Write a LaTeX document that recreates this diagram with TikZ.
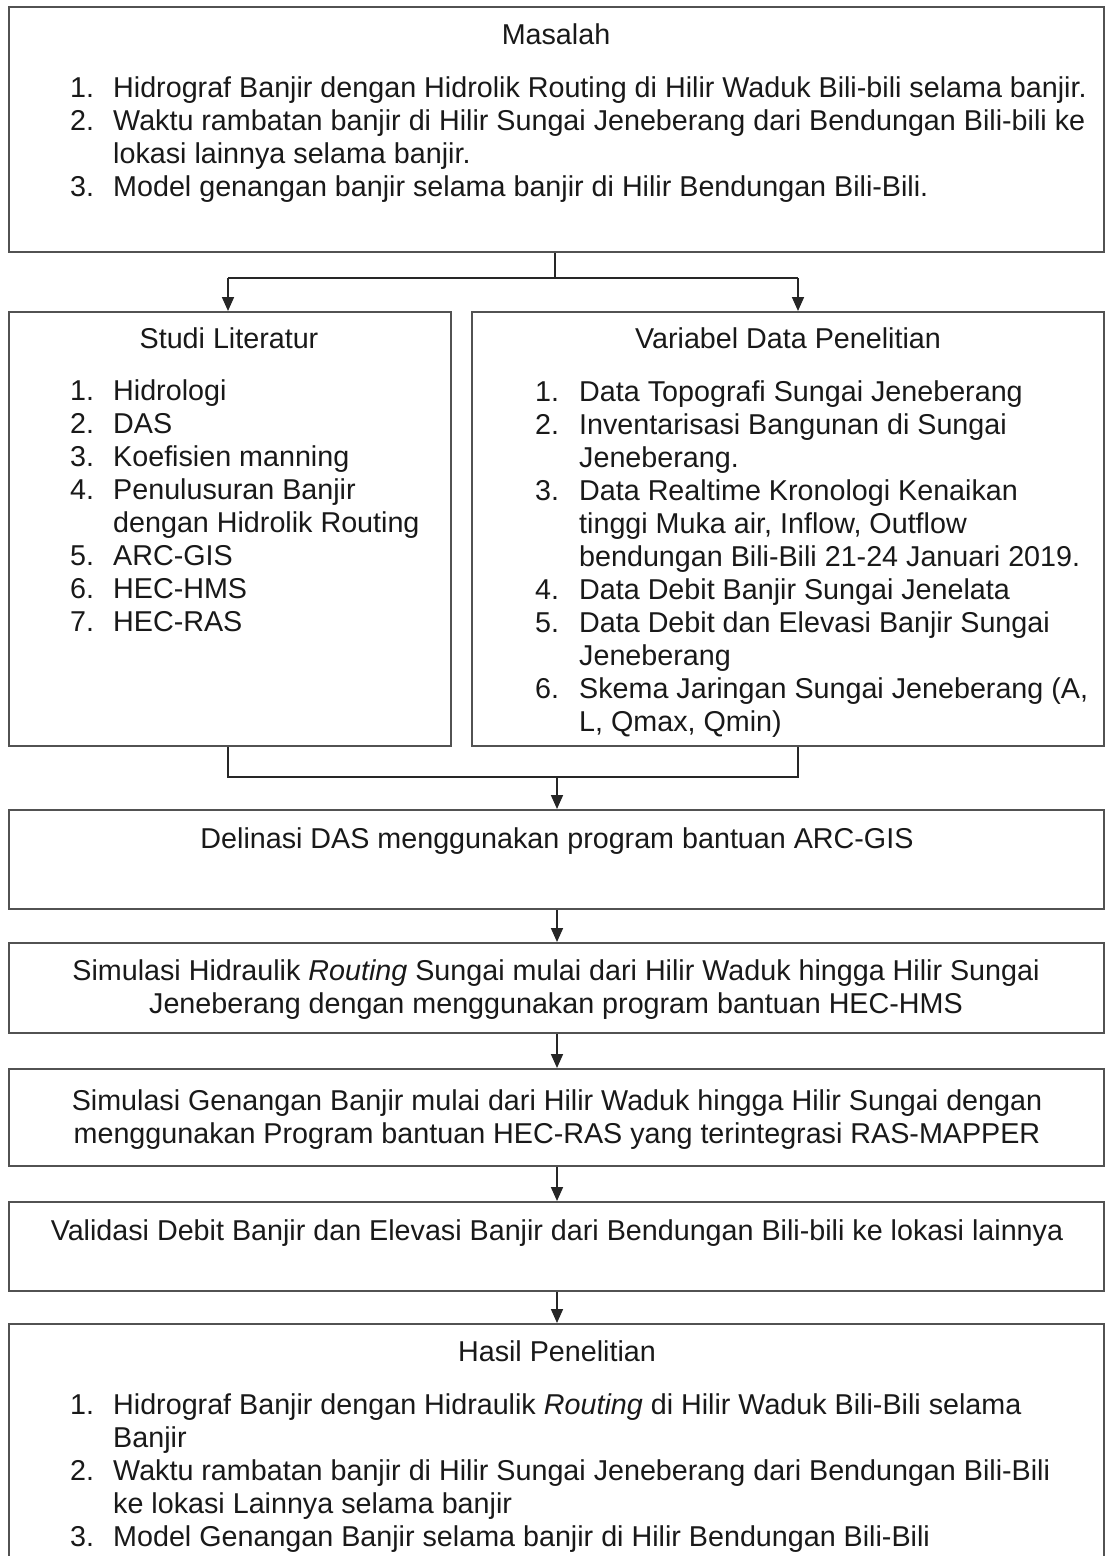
\documentclass[tikz,border=0pt]{standalone}
\usepackage{fontspec}
\setmainfont{Liberation Sans}
\usetikzlibrary{arrows.meta}
\newcommand\diagfont{\fontsize{28.7}{33}\selectfont}
\begin{document}
\begin{tikzpicture}[x=1pt,y=-1pt,
  box/.style={draw=black!68, line width=2pt, inner sep=0pt, minimum width=1095pt},
  conn/.style={draw=black!85, line width=1.7pt},
  arr/.style={conn, -{Triangle[length=14pt,width=12pt]}},
  txt/.style={inner sep=0pt, text=black!90, font=\diagfont},
]
\useasboundingbox (0,0) rectangle (1105,1556);
\clip (0,0) rectangle (1105,1556);
\fill[white] (0,0) rectangle (1105,1556);

% boxes
\node[box, minimum height=245pt] (masalah) at (556.5,129.5) {};
\node[box, minimum width=442pt, minimum height=434pt] (studi) at (230,529) {};
\node[box, minimum width=632pt, minimum height=434pt] (var) at (788,529) {};
\node[box, minimum height=99pt] (delin) at (556.5,859.5) {};
\node[box, minimum height=90pt] (simh) at (556.5,988) {};
\node[box, minimum height=97pt] (simg) at (556.5,1117.5) {};
\node[box, minimum height=89pt] (valid) at (556.5,1246.5) {};
\node[box, minimum height=300pt] (hasil) at (556.5,1474) {};

% texts
\node[txt, anchor=base] (tMas) at (556,44) {Masalah};
\node[txt, anchor=base west] (lMas) at (70,97) {\begin{tabular}[t]{@{}p{43pt}@{}l@{}}
1.&Hidrograf Banjir dengan Hidrolik Routing di Hilir Waduk Bili-bili selama banjir.\\
2.&Waktu rambatan banjir di Hilir Sungai Jeneberang dari Bendungan Bili-bili ke\\
&lokasi lainnya selama banjir.\\
3.&Model genangan banjir selama banjir di Hilir Bendungan Bili-Bili.
\end{tabular}};

\node[txt, anchor=base] (tStudi) at (229,348) {Studi Literatur};
\node[txt, anchor=base west] (lStudi) at (70,400) {\begin{tabular}[t]{@{}p{43pt}@{}l@{}}
1.&Hidrologi\\
2.&DAS\\
3.&Koefisien manning\\
4.&Penulusuran Banjir\\
&dengan Hidrolik Routing\\
5.&ARC-GIS\\
6.&HEC-HMS\\
7.&HEC-RAS
\end{tabular}};

\node[txt, anchor=base] (tVar) at (788,348) {Variabel Data Penelitian};
\node[txt, anchor=base west] (lVar) at (535,401) {\begin{tabular}[t]{@{}p{44pt}@{}l@{}}
1.&Data Topografi Sungai Jeneberang\\
2.&Inventarisasi Bangunan di Sungai\\
&Jeneberang.\\
3.&Data Realtime Kronologi Kenaikan\\
&tinggi Muka air, Inflow, Outflow\\
&bendungan Bili-Bili 21-24 Januari 2019.\\
4.&Data Debit Banjir Sungai Jenelata\\
5.&Data Debit dan Elevasi Banjir Sungai\\
&Jeneberang\\
6.&Skema Jaringan Sungai Jeneberang (A,\\
&L, Qmax, Qmin)
\end{tabular}};

\node[txt, anchor=base] (tDelin) at (557,848) {Delinasi DAS menggunakan program bantuan ARC-GIS};
\node[txt, anchor=base] (tSimh) at (556,980) {\begin{tabular}[t]{@{}c@{}}
Simulasi Hidraulik \textit{Routing} Sungai mulai dari Hilir Waduk hingga Hilir Sungai\\
Jeneberang dengan menggunakan program bantuan HEC-HMS
\end{tabular}};
\node[txt, anchor=base] (tSimg) at (557,1110) {\begin{tabular}[t]{@{}c@{}}
Simulasi Genangan Banjir mulai dari Hilir Waduk hingga Hilir Sungai dengan\\
menggunakan Program bantuan HEC-RAS yang terintegrasi RAS-MAPPER
\end{tabular}};
\node[txt, anchor=base] (tValid) at (557,1240) {Validasi Debit Banjir dan Elevasi Banjir dari Bendungan Bili-bili ke lokasi lainnya};

\node[txt, anchor=base] (tHasil) at (557,1361) {Hasil Penelitian};
\node[txt, anchor=base west] (lHasil) at (70,1414) {\begin{tabular}[t]{@{}p{43pt}@{}l@{}}
1.&Hidrograf Banjir dengan Hidraulik \textit{Routing} di Hilir Waduk Bili-Bili selama\\
&Banjir\\
2.&Waktu rambatan banjir di Hilir Sungai Jeneberang dari Bendungan Bili-Bili\\
&ke lokasi Lainnya selama banjir\\
3.&Model Genangan Banjir selama banjir di Hilir Bendungan Bili-Bili
\end{tabular}};

% connectors
\coordinate (axis) at (557,0);
\coordinate (split) at (555,278);
\coordinate (sL) at (228,278);
\coordinate (sR) at (798,278);
\draw[conn] (masalah.south -| split) -- (split);
\draw[conn] (sL) -- (sR);
\draw[arr] (sL) -- (sL |- studi.north);
\draw[arr] (sR) -- (sR |- var.north);

\coordinate (jL) at (228,777);
\coordinate (jR) at (798,777);
\coordinate (join) at (557,777);
\draw[conn] (jL |- studi.south) -- (jL) -- (jR) -- (jR |- var.south);
\draw[arr] (join) -- (join |- delin.north);
\draw[arr] (delin.south -| axis) -- (simh.north -| axis);
\draw[arr] (simh.south -| axis) -- (simg.north -| axis);
\draw[arr] (simg.south -| axis) -- (valid.north -| axis);
\draw[arr] (valid.south -| axis) -- (hasil.north -| axis);
\end{tikzpicture}
\end{document}
